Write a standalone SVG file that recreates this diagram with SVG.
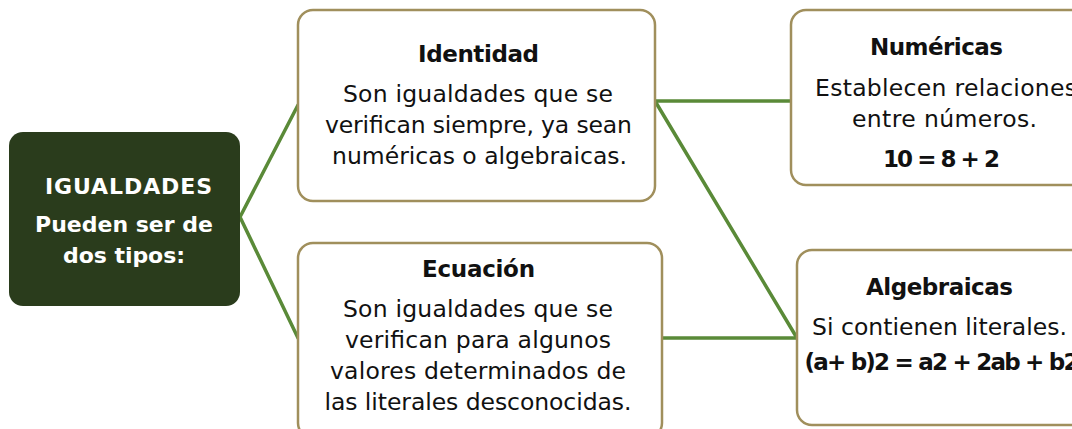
<svg xmlns="http://www.w3.org/2000/svg" width="1072" height="429" viewBox="0 0 1072 429">
<style>
.box{fill:#ffffff;stroke:#a08f5c;stroke-width:2.5}
.root{fill:#2a3c1c}
.t{font-family:"DejaVu Sans","Liberation Sans",sans-serif;font-size:23.5px;fill:#111111;text-anchor:middle}
.b{font-weight:bold;font-size:23px}
.w{fill:#ffffff;font-size:22px}
.c{stroke:#5a8a38;stroke-width:3.5;fill:none;stroke-linecap:round}
</style>
<rect width="1072" height="429" fill="#ffffff"/>
<g id="connectors">
<polyline class="c" points="298,105 240,217 298,338"/>
<line class="c" x1="655" y1="101" x2="791" y2="101"/>
<line class="c" x1="655" y1="101" x2="797" y2="338"/>
<line class="c" x1="662" y1="338" x2="797" y2="338"/>
</g>
<g id="igualdades">
<rect class="root" x="9" y="132" width="231" height="174" rx="14"/>
<text class="t b w" x="128.5" y="194" textLength="167">IGUALDADES</text>
<text class="t b w" x="124" y="232" textLength="178">Pueden ser de</text>
<text class="t b w" x="124" y="263" textLength="122">dos tipos:</text>
</g>
<g id="identidad">
<rect class="box" x="298" y="10" width="357" height="191" rx="15"/>
<text class="t b" x="478.5" y="62" textLength="121">Identidad</text>
<text class="t" x="478" y="102" textLength="270">Son igualdades que se</text>
<text class="t" x="478.5" y="133" textLength="307">verifican siempre, ya sean</text>
<text class="t" x="479.5" y="164" textLength="295">numéricas o algebraicas.</text>
</g>
<g id="ecuacion">
<rect class="box" x="298" y="243" width="364" height="195" rx="15"/>
<text class="t b" x="478.5" y="277" textLength="113">Ecuación</text>
<text class="t" x="478" y="317" textLength="270">Son igualdades que se</text>
<text class="t" x="478" y="348" textLength="266">verifican para algunos</text>
<text class="t" x="478" y="379" textLength="296">valores determinados de</text>
<text class="t" x="478" y="410" textLength="307">las literales desconocidas.</text>
</g>
<g id="numericas">
<rect class="box" x="791" y="10" width="300" height="175" rx="15"/>
<text class="t b" x="936.5" y="55" textLength="133">Numéricas</text>
<text class="t" x="946" y="96" textLength="262">Establecen relaciones</text>
<text class="t" x="944.5" y="127" textLength="185">entre números.</text>
<text class="t b" x="941.5" y="167" textLength="117">10 = 8 + 2</text>
</g>
<g id="algebraicas">
<rect class="box" x="797" y="250" width="300" height="175" rx="15"/>
<text class="t b" x="939.5" y="295" textLength="147">Algebraicas</text>
<text class="t" x="939.5" y="335" textLength="255">Si contienen literales.</text>
<text class="t b" x="942" y="370" textLength="275">(a+ b)2 = a2 + 2ab + b2</text>
</g>
</svg>
